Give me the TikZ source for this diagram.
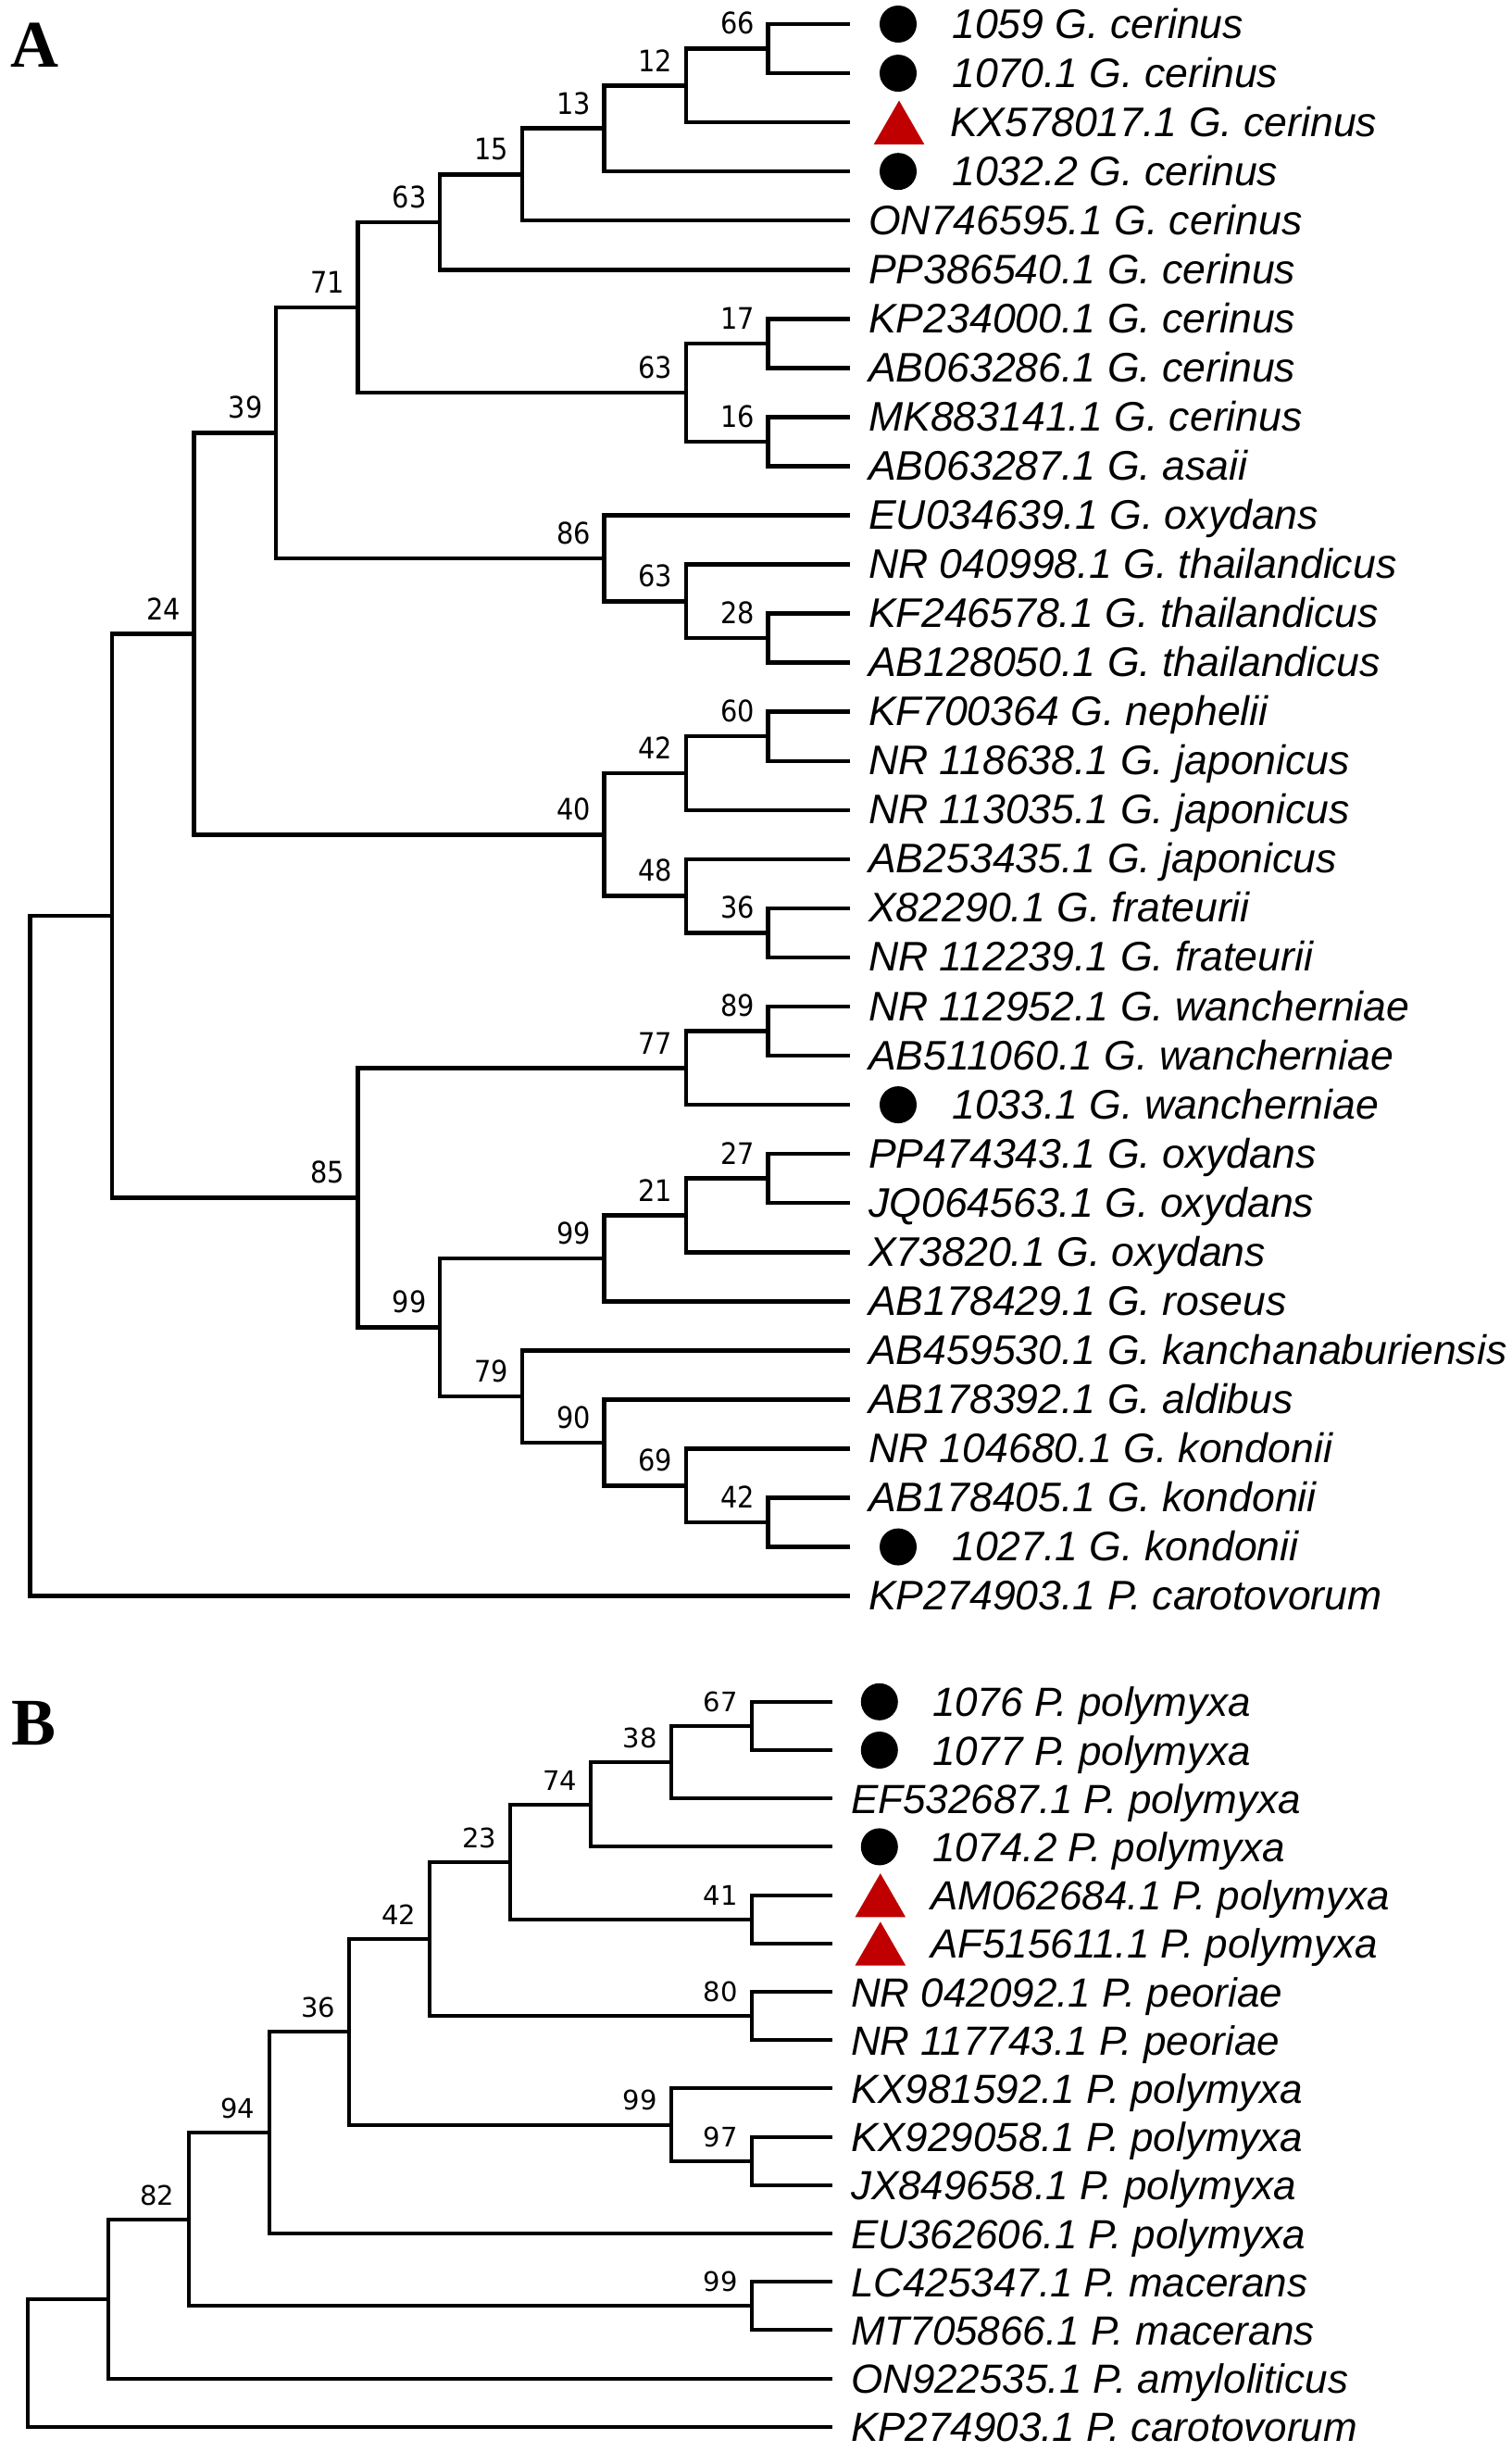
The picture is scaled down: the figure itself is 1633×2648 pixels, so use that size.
\documentclass[tikz,border=0pt]{standalone}
\usepackage{fontspec}
\setmainfont{Liberation Sans}
\newfontfamily\bsAfont{DejaVu Sans Condensed}
\newfontfamily\bsBfont{DejaVu Sans}
\newfontfamily\panelfont{Liberation Serif}
\usetikzlibrary{shapes.geometric}
\definecolor{trired}{HTML}{C00000}
\tikzset{
  brA/.style={line width=4.5pt},
  brB/.style={line width=4pt},
  lt/.style={anchor=base west, inner sep=0pt, font=\fontsize{44}{44}\selectfont\itshape},
  ltA/.style={anchor=base west, inner sep=0pt, font=\fontsize{44.6}{44}\selectfont\itshape},
  bsA/.style={anchor=south east, inner sep=0pt, font=\bsAfont\fontsize{32}{32}\selectfont, xshift=-14.5pt, yshift=15pt},
  bsB/.style={anchor=south east, inner sep=0pt, font=\bsBfont\fontsize{29}{29}\selectfont, xshift=-15pt, yshift=15pt},
  dotmark/.style={circle, fill=black, minimum size=40pt, inner sep=0pt},
  trimark/.style={regular polygon, regular polygon sides=3, fill=trired, minimum size=63pt, inner sep=0pt},
  panel/.style={anchor=base west, inner sep=0pt, font=\panelfont\bfseries\fontsize{72}{72}\selectfont},
}
\begin{document}
\begin{tikzpicture}[x=1pt,y=-1pt]
\useasboundingbox (0,0) rectangle (1633,2648);
\node[panel] (pA) at (11,72) {A};
\node[panel] (pB) at (12,1884) {B};

% ---------------- Panel A ----------------
\begin{scope}[shift={(32.4,-27.05)}, x=88.56pt, y=-53.05pt]
\foreach \i in {1,...,33} \coordinate (aL\i) at (10,\i);
% plain leaves
\foreach \i/\t in {5/ON746595.1 G. cerinus,6/PP386540.1 G. cerinus,7/KP234000.1 G. cerinus,8/AB063286.1 G. cerinus,9/MK883141.1 G. cerinus,10/AB063287.1 G. asaii,11/EU034639.1 G. oxydans,12/NR 040998.1 G. thailandicus,13/KF246578.1 G. thailandicus,14/AB128050.1 G. thailandicus,15/KF700364 G. nephelii,16/NR 118638.1 G. japonicus,17/NR 113035.1 G. japonicus,18/AB253435.1 G. japonicus,19/X82290.1 G. frateurii,20/NR 112239.1 G. frateurii,21/NR 112952.1 G. wancherniae,22/AB511060.1 G. wancherniae,24/PP474343.1 G. oxydans,25/JQ064563.1 G. oxydans,26/X73820.1 G. oxydans,27/AB178429.1 G. roseus,28/AB459530.1 G. kanchanaburiensis,29/AB178392.1 G. aldibus,30/NR 104680.1 G. kondonii,31/AB178405.1 G. kondonii,33/KP274903.1 P. carotovorum}
  {\node[ltA, xshift=20pt, yshift=-15pt] (aT\i) at (aL\i) {\t};}
% marked leaves
\foreach \i/\t in {1/1059 G. cerinus,2/1070.1 G. cerinus,4/1032.2 G. cerinus,23/1033.1 G. wancherniae,32/1027.1 G. kondonii}
  {\node[dotmark, xshift=52pt] (aM\i) at (aL\i) {};
   \node[ltA, xshift=110pt, yshift=-15pt] (aT\i) at (aL\i) {\t};}
\node[trimark, xshift=53pt, yshift=-8pt] (aM3) at (aL3) {};
\node[ltA, xshift=108pt, yshift=-15pt] (aT3) at (aL3) {KX578017.1 G. cerinus};

% internal nodes
\coordinate (a0) at (0,26.0751953125);
\coordinate (aG) at (1,19.150390625);
\coordinate (a24) at (2,13.41015625);
\coordinate (a39) at (3,9.3203125);
\coordinate (a71) at (4,6.765625);
\coordinate (a63a) at (5,5.03125);
\coordinate (a15) at (6,4.0625);
\coordinate (a13) at (7,3.125);
\coordinate (a12) at (8,2.25);
\coordinate (a66) at (9,1.5);
\coordinate (a63b) at (8,8.5);
\coordinate (a17) at (9,7.5);
\coordinate (a16) at (9,9.5);
\coordinate (a86) at (7,11.875);
\coordinate (a63c) at (8,12.75);
\coordinate (a28) at (9,13.5);
\coordinate (a40) at (7,17.5);
\coordinate (a42) at (8,16.25);
\coordinate (a60) at (9,15.5);
\coordinate (a48) at (8,18.75);
\coordinate (a36) at (9,19.5);
\coordinate (a85) at (4,24.890625);
\coordinate (a77) at (8,22.25);
\coordinate (a89) at (9,21.5);
\coordinate (a99a) at (5,27.53125);
\coordinate (a99b) at (7,26.125);
\coordinate (a21) at (8,25.25);
\coordinate (a27) at (9,24.5);
\coordinate (a79) at (6,28.9375);
\coordinate (a90) at (7,29.875);
\coordinate (a69) at (8,30.75);
\coordinate (a42b) at (9,31.5);

% branches
\foreach \p/\c in {a0/aG,a0/aL33,aG/a24,aG/a85,a24/a39,a24/a40,a39/a71,a39/a86,a71/a63a,a71/a63b,a63a/a15,a63a/aL6,a15/a13,a15/aL5,a13/a12,a13/aL4,a12/a66,a12/aL3,a66/aL1,a66/aL2,a63b/a17,a63b/a16,a17/aL7,a17/aL8,a16/aL9,a16/aL10,a86/aL11,a86/a63c,a63c/aL12,a63c/a28,a28/aL13,a28/aL14,a40/a42,a40/a48,a42/a60,a42/aL17,a60/aL15,a60/aL16,a48/aL18,a48/a36,a36/aL19,a36/aL20,a85/a77,a85/a99a,a77/a89,a77/aL23,a89/aL21,a89/aL22,a99a/a99b,a99a/a79,a99b/a21,a99b/aL27,a21/a27,a21/aL26,a27/aL24,a27/aL25,a79/aL28,a79/a90,a90/aL29,a90/a69,a69/aL30,a69/a42b,a42b/aL31,a42b/aL32}
  {\draw[brA] (\p) |- (\c);}

% bootstrap labels
\foreach \n/\v in {a66/66,a12/12,a13/13,a15/15,a63a/63,a71/71,a39/39,a24/24,a63b/63,a17/17,a16/16,a86/86,a63c/63,a28/28,a42/42,a60/60,a40/40,a48/48,a36/36,a77/77,a89/89,a85/85,a99a/99,a99b/99,a21/21,a27/27,a79/79,a90/90,a69/69,a42b/42}
  {\node[bsA] (bs\n) at (\n) {\v};}
\end{scope}

% ---------------- Panel B ----------------
\begin{scope}[shift={(29.8,1785.6)}, x=86.9pt, y=-52.2pt]
\foreach \i in {1,...,16} \coordinate (bL\i) at (10,\i);
\foreach \i/\t in {3/EF532687.1 P. polymyxa,7/NR 042092.1 P. peoriae,8/NR 117743.1 P. peoriae,9/KX981592.1 P. polymyxa,10/KX929058.1 P. polymyxa,11/JX849658.1 P. polymyxa,12/EU362606.1 P. polymyxa,13/LC425347.1 P. macerans,14/MT705866.1 P. macerans,15/ON922535.1 P. amyloliticus,16/KP274903.1 P. carotovorum}
  {\node[lt, xshift=20pt, yshift=-16pt] (bT\i) at (bL\i) {\t};}
\foreach \i/\t in {1/1076 P. polymyxa,2/1077 P. polymyxa,4/1074.2 P. polymyxa}
  {\node[dotmark, xshift=51pt] (bM\i) at (bL\i) {};
   \node[lt, xshift=108pt, yshift=-16pt] (bT\i) at (bL\i) {\t};}
\foreach \i/\t in {5/AM062684.1 P. polymyxa,6/AF515611.1 P. polymyxa}
  {\node[trimark, xshift=52pt, yshift=-8pt] (bM\i) at (bL\i) {};
   \node[lt, xshift=106pt, yshift=-16pt] (bT\i) at (bL\i) {\t};}

\coordinate (b0) at (0,14.6767578125);
\coordinate (bP) at (1,13.353515625);
\coordinate (b82) at (2,11.70703125);
\coordinate (b94) at (3,9.9140625);
\coordinate (b36) at (4,7.828125);
\coordinate (b42) at (5,5.90625);
\coordinate (b23) at (6,4.3125);
\coordinate (b74) at (7,3.125);
\coordinate (b38) at (8,2.25);
\coordinate (b67) at (9,1.5);
\coordinate (b41) at (9,5.5);
\coordinate (b80) at (9,7.5);
\coordinate (b99b) at (8,9.75);
\coordinate (b97) at (9,10.5);
\coordinate (b99c) at (9,13.5);

\foreach \p/\c in {b0/bP,b0/bL16,bP/b82,bP/bL15,b82/b94,b82/b99c,b94/b36,b94/bL12,b36/b42,b36/b99b,b42/b23,b42/b80,b23/b74,b23/b41,b74/b38,b74/bL4,b38/b67,b38/bL3,b67/bL1,b67/bL2,b41/bL5,b41/bL6,b80/bL7,b80/bL8,b99b/bL9,b99b/b97,b97/bL10,b97/bL11,b99c/bL13,b99c/bL14}
  {\draw[brB] (\p) |- (\c);}

\foreach \n/\v in {b67/67,b38/38,b74/74,b23/23,b41/41,b42/42,b80/80,b36/36,b99b/99,b97/97,b94/94,b82/82,b99c/99}
  {\node[bsB] (bs\n) at (\n) {\v};}
\end{scope}
\end{tikzpicture}
\end{document}
